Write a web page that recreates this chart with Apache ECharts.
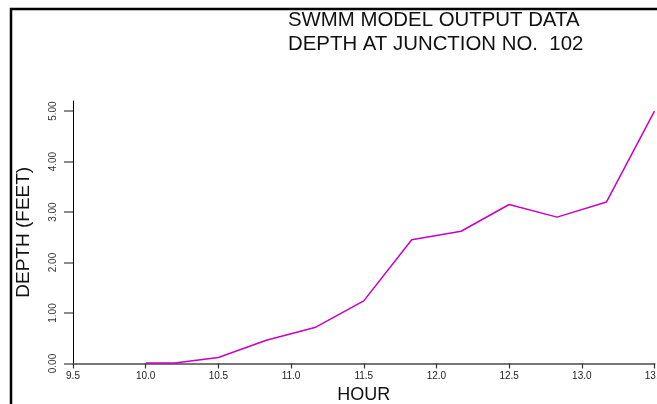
<!DOCTYPE html>
<html>
<head>
<meta charset="utf-8">
<script src="https://cdn.jsdelivr.net/npm/echarts@6/dist/echarts.min.js"></script>
<style>
html,body{margin:0;padding:0;background:#fff;}
#c{width:657px;height:404px;}
</style>
</head>
<body>
<div id="c"></div>
<script>
// Data
var titleLines = ["SWMM MODEL OUTPUT DATA", "DEPTH AT JUNCTION NO.  102"];
var hours = [10.0, 10.2, 10.5, 10.83, 11.17, 11.5, 11.83, 12.17, 12.5, 12.83, 13.17, 13.5];
var depth = [0.01, 0.01, 0.12, 0.46, 0.72, 1.24, 2.45, 2.62, 3.15, 2.90, 3.20, 5.00];
var yTicks = [0, 1, 2, 3, 4, 5];
var xTicks = [9.5, 10.0, 10.5, 11.0, 11.5, 12.0, 12.5, 13.0, 13.5];

var font = "'Liberation Sans', Arial, sans-serif";
var chart = echarts.init(document.getElementById('c'), null, {renderer: 'canvas'});
var seriesData = hours.map(function (h, i) { return [h, depth[i]]; });

chart.setOption({
  animation: false,
  backgroundColor: '#fff',
  title: {
    text: titleLines.join('\n'),
    left: 288,
    top: 8,
    padding: 0,
    textStyle: {fontFamily: font, fontSize: 20.4, fontWeight: 'normal', color: '#111', lineHeight: 24}
  },
  graphic: [{
    type: 'polyline',
    shape: {points: [[11, 404], [11, 9], [657, 9]]},
    style: {stroke: '#000', lineWidth: 2.5, fill: null},
    silent: true
  }],
  grid: {left: 73, right: 2.5, top: 101, bottom: 40.5, containLabel: false, outerBoundsMode: 'none'},
  xAxis: {
    type: 'value',
    min: 9.5, max: 13.5, interval: 0.5,
    name: 'HOUR', nameLocation: 'middle', nameGap: 23,
    nameTextStyle: {fontFamily: font, fontSize: 18, color: '#111'},
    axisLine: {lineStyle: {color: '#777', width: 2}},
    axisTick: {length: 5, lineStyle: {color: '#333', width: 1.2}, customValues: xTicks},
    axisLabel: {customValues: xTicks, fontFamily: font, fontSize: 10, color: '#222', margin: 8,
      formatter: function (v) { return v.toFixed(1); }},
    splitLine: {show: false}
  },
  yAxis: {
    type: 'value',
    min: 0, max: 5.2,
    name: 'DEPTH (FEET)', nameLocation: 'middle', nameGap: 40, nameRotate: 90,
    nameTextStyle: {fontFamily: font, fontSize: 19, color: '#111'},
    axisLine: {show: true, lineStyle: {color: '#000', width: 1}},
    axisTick: {show: true, length: 9, lineStyle: {color: '#666', width: 1.5}, customValues: yTicks},
    axisLabel: {customValues: yTicks, rotate: 90, fontFamily: font, fontSize: 10, color: '#333', margin: 15,
      formatter: function (v) { return v.toFixed(2); }},
    splitLine: {show: false}
  },
  series: [{
    type: 'line',
    data: seriesData,
    showSymbol: false,
    symbol: 'none',
    lineStyle: {color: '#c800c8', width: 1.5},
    itemStyle: {color: '#c800c8'},
    clip: false
  }]
});
</script>
</body>
</html>
